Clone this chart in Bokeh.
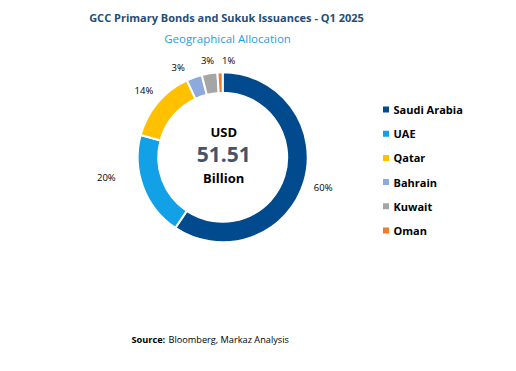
import math
from bokeh.plotting import figure
from bokeh.models import Range1d, ColumnDataSource
from bokeh.core.properties import value
from bokeh.embed import file_html
from bokeh.resources import INLINE

countries = ["Saudi Arabia", "UAE", "Qatar", "Bahrain", "Kuwait", "Oman"]
shares = [60, 20, 14, 3, 3, 1]
share_labels = ["60%", "20%", "14%", "3%", "3%", "1%"]
colors = ["#004A8D", "#12A0E6", "#FFC000", "#8EAADC", "#A5A5A5", "#ED7D31"]
total_text = "51.51"

W, H = 516, 371
FONT = "Open Sans"

p = figure(width=W, height=H, output_backend="svg", toolbar_location=None,
           x_range=Range1d(0, W), y_range=Range1d(0, H), min_border=0)
p.axis.visible = False
p.grid.visible = False
p.outline_line_color = None

def Y(v):
    return H - v

cx, cy = 222.2, 156.8
r_out, r_in = 85, 64.5
tot = sum(shares)
starts, ends, mids = [], [], []
c = 0.0
for s in shares:
    a0 = c / tot
    c += s
    a1 = c / tot
    starts.append(math.pi / 2 - a0 * 2 * math.pi)
    ends.append(math.pi / 2 - a1 * 2 * math.pi)
    mids.append((a0 + a1) / 2 * 2 * math.pi)

src = ColumnDataSource(dict(start=starts, end=ends, color=colors))
p.annular_wedge(x=cx, y=Y(cy), inner_radius=r_in, outer_radius=r_out,
                start_angle="start", end_angle="end", direction="clock",
                fill_color="color", line_color="white", line_width=2, source=src)

# data labels (radial distance + small pixel nudges)
lab_r = [105, 105, 103, 100, 98, 97]
nudge = [(0, 0), (-18, -17), (0, 0), (-11, 4), (0, 0), (9, 0)]
lx, ly = [], []
for m, rr, (dx, dy) in zip(mids, lab_r, nudge):
    lx.append(cx + rr * math.sin(m) + dx)
    ly.append(Y(cy - rr * math.cos(m) + dy))
p.text(x=lx, y=ly, text=share_labels, text_font=value(FONT), text_font_size="9.5px",
       text_font_style="normal", text_color="#000000", text_align="center",
       text_baseline="middle")

# center text
p.text(x=[cx + 1], y=[Y(131)], text=["USD"], text_font=value(FONT), text_font_size="13px",
       text_font_style="bold", text_color="#000000", text_align="center", text_baseline="middle")
p.text(x=[cx + 1], y=[Y(154)], text=[total_text], text_font=value(FONT), text_font_size="21px",
       text_font_style="bold", text_color="#44546A", text_align="center", text_baseline="middle")
p.text(x=[cx + 1], y=[Y(177)], text=["Billion"], text_font=value(FONT), text_font_size="13px",
       text_font_style="bold", text_color="#000000", text_align="center", text_baseline="middle")

# titles
p.text(x=[226], y=[Y(17)], text=["GCC Primary Bonds and Sukuk Issuances - Q1 2025"],
       text_font=value(FONT), text_font_size="11px", text_font_style="bold",
       text_color="#1F4E79", text_align="center", text_baseline="middle")
p.text(x=[227], y=[Y(38)], text=["Geographical Allocation"],
       text_font=value(FONT), text_font_size="11.5px", text_color="#1BA1E2",
       text_align="center", text_baseline="middle")

# legend
leg_y = [Y(109 + 24.2 * i) for i in range(len(countries))]
p.rect(x=[385.5] * len(countries), y=leg_y, width=6, height=6, fill_color=colors,
       line_color=None)
p.text(x=[393] * len(countries), y=leg_y, text=countries, text_font=value(FONT),
       text_font_size="11px", text_font_style="bold", text_color="#000000",
       text_align="left", text_baseline="middle")

# source
p.text(x=[131], y=[Y(339)], text=["Source:"], text_font=value(FONT), text_font_size="9.2px",
       text_font_style="bold", text_color="#000000", text_align="left", text_baseline="middle")
p.text(x=[168], y=[Y(339)], text=["Bloomberg, Markaz Analysis"], text_font=value(FONT),
       text_font_size="9.2px", text_color="#000000", text_align="left", text_baseline="middle")

open("out.html", "w").write(file_html(p, INLINE))
